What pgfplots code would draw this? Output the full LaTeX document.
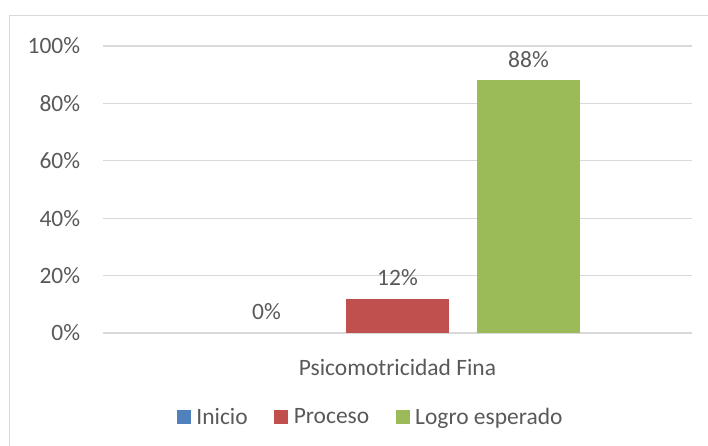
\documentclass[border=0pt]{standalone}
\usepackage{pgfplots}
\pgfplotsset{compat=1.18}
\usepackage{fontspec}
\setmainfont{Carlito}
\definecolor{txt}{HTML}{595959}
\definecolor{gridc}{HTML}{D9D9D9}
\definecolor{cInicio}{HTML}{4F81BD}
\definecolor{cProceso}{HTML}{C0504D}
\definecolor{cLogro}{HTML}{9BBB59}
\begin{document}
\begin{tikzpicture}
\useasboundingbox (0pt,0pt) rectangle (531pt,334.5pt);
\draw[gridc, line width=0.9pt] (7.1pt,0pt) -- (7.1pt,322.9pt) -- (531pt,322.9pt);
\begin{axis}[
  at={(77.25pt,84.75pt)}, anchor=south west,
  scale only axis,
  width=441.75pt, height=215.25pt,
  xmin=0, xmax=589, ymin=0, ymax=100,
  ybar, bar shift=0pt, bar width=103,
  axis line style={draw=none},
  major tick length=0pt,
  ymajorgrids, xmajorgrids=false, grid style={gridc, line width=0.9pt},
  ytick={0,20,40,60,80,100},
  yticklabels={0\%,20\%,40\%,60\%,80\%,100\%},
  yticklabel style={inner sep=0pt, xshift=-17pt},
  xtick={294.5},
  xticklabels={Psicomotricidad Fina},
  xticklabel style={inner sep=0pt, anchor=center, yshift=-26pt},
  tick label style={font=\fontsize{17.6}{21}\selectfont, text=txt},
  nodes near coords={\pgfmathprintnumber[assume math mode=true]{\pgfplotspointmeta}\%},
  nodes near coords style={font=\fontsize{17.6}{21}\selectfont, text=txt, inner sep=0pt, anchor=south, yshift=9.5pt},
  clip=false,
  legend columns=3,
  legend style={at={(0.453,-0.293)}, anchor=center, draw=none, fill=none,
    font=\fontsize{17.6}{21}\selectfont, text=txt,
    nodes={inner sep=0pt},
    /tikz/every odd column/.append style={column sep=4pt},
    /tikz/every even column/.append style={column sep=20pt}},
  legend image code/.code={\fill[#1] (0pt,-5pt) rectangle (10.5pt,5.5pt);},
]
\addplot[fill=none, draw=none,
  legend image code/.code={\fill[cInicio] (0pt,-5pt) rectangle (10.5pt,5.5pt);}]
  coordinates {(163.5,0)};
\addplot[fill=cProceso, draw=none] coordinates {(294.5,12)};
\addplot[fill=cLogro, draw=none] coordinates {(425.5,88)};
\legend{Inicio,Proceso,Logro esperado}
\end{axis}
\end{tikzpicture}
\end{document}
